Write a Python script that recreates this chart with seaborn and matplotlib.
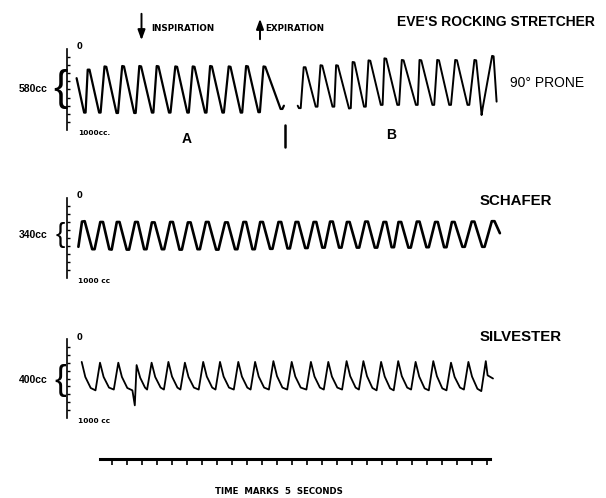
import matplotlib
matplotlib.use("Agg")
import matplotlib.pyplot as plt
import seaborn as sns
import pandas as pd

# kymograph traces: time in seconds, volume in cc (0 = top of scale)
# Eve's rocking stretcher, run A, then run B (90 deg prone)
eve_a_t = [3.2, 5.7, 6.2, 6.9, 7.5, 10.7, 11.2, 12.5, 13.1, 16.5, 17.0, 18.4, 19.0,
           22.4, 22.9, 24.1, 24.7, 28.3, 28.8, 29.9, 30.5, 34.0, 34.5, 36.1, 36.7,
           40.1, 40.6, 41.9, 42.5, 46.0, 46.5, 47.7, 48.3, 51.8, 52.3, 53.9, 54.5,
           57.9, 58.4, 59.7, 60.3, 63.8, 64.3, 65.5, 66.1, 71.2, 71.8, 72.3]
eve_a_cc = [360, 785, 785, 255, 255, 785, 785, 215, 220, 790, 790, 210, 215,
            790, 790, 210, 215, 785, 785, 210, 215, 785, 785, 215, 220,
            785, 785, 215, 220, 785, 785, 210, 215, 785, 785, 215, 220,
            785, 785, 210, 215, 780, 780, 215, 220, 740, 740, 700]
eve_b_t = [76.9, 77.3, 77.9, 78.9, 79.5, 82.9, 83.5, 84.5, 85.1, 88.5, 89.1, 89.7, 90.3,
           94.0, 94.6, 95.2, 95.8, 99.0, 99.6, 100.5, 101.1, 104.6, 105.2, 105.8, 106.4,
           110.1, 110.7, 111.6, 112.2, 116.3, 116.9, 117.5, 118.1, 121.8, 122.4, 123.4, 124.0,
           127.4, 128.0, 129.4, 130.0, 133.5, 134.1, 135.8, 136.4, 137.9, 138.2, 138.6,
           141.7, 142.2, 143.2]
eve_b_cc = [700, 730, 730, 225, 225, 712, 712, 200, 205, 712, 712, 200, 205,
            735, 730, 160, 165, 712, 712, 140, 145, 690, 690, 115, 120,
            690, 690, 135, 140, 690, 690, 135, 140, 690, 690, 135, 140,
            690, 690, 135, 140, 690, 690, 135, 140, 690, 815, 720,
            85, 90, 650]
eve_switch_t = 72.7

# Schafer
sch_t = [3.8, 5.0, 5.9, 8.4, 9.2, 11.1, 12.0, 14.1, 14.9, 16.6, 17.5, 19.9, 20.7,
         22.7, 23.6, 25.7, 26.5, 28.3, 29.2, 31.6, 32.4, 34.4, 35.3, 37.5, 38.3,
         40.3, 41.2, 43.5, 44.3, 46.3, 47.2, 49.7, 50.5, 52.7, 53.6, 56.0, 56.8,
         58.8, 59.7, 61.8, 62.6, 64.4, 65.3, 67.7, 68.5, 70.5, 71.4, 73.5, 74.3,
         76.2, 77.1, 79.4, 80.2, 82.2, 83.1, 85.1, 85.9, 87.7, 88.6, 90.7, 91.5,
         93.3, 94.2, 96.6, 97.4, 99.4, 100.3, 102.6, 103.4, 105.5, 106.4, 108.2, 109.0,
         110.5, 111.4, 113.8, 114.6, 116.6, 117.5, 119.8, 120.6, 122.7, 123.6, 125.7, 126.5,
         128.3, 129.2, 131.8, 132.6, 134.9, 135.8, 138.4, 139.2, 141.6, 142.5, 144.3]
sch_cc = [610, 295, 290, 640, 640, 300, 300, 640, 645, 300, 300, 645, 645,
          300, 300, 640, 640, 305, 305, 640, 640, 300, 300, 645, 645,
          305, 305, 640, 640, 300, 300, 645, 645, 305, 305, 640, 640,
          300, 300, 640, 640, 300, 300, 635, 635, 300, 300, 630, 630,
          300, 300, 625, 625, 300, 300, 620, 620, 295, 295, 620, 620,
          300, 300, 620, 620, 295, 295, 620, 620, 300, 300, 615, 615,
          300, 300, 620, 620, 295, 295, 615, 615, 300, 300, 615, 615,
          300, 300, 610, 610, 295, 295, 610, 610, 290, 290, 440]

# Silvester: peak, knee of the fall, start of the floor, floor before next rise
sil_t = [4.9, 6.1, 7.9, 9.5,
         11.0, 12.2, 14.0, 15.6,
         17.1, 18.3, 20.1, 21.8, 22.6,
         23.2, 24.4, 26.0, 26.7,
         28.2, 29.4, 31.2, 32.3,
         33.8, 35.0, 36.8, 37.8,
         39.3, 40.5, 42.3, 43.9,
         45.4, 46.6, 48.4, 49.5,
         51.0, 52.2, 54.0, 55.6,
         57.1, 58.3, 60.1, 61.2,
         62.7, 63.9, 65.7, 67.3,
         68.8, 70.0, 71.8, 73.4,
         74.9, 76.1, 77.9, 79.8,
         81.3, 82.5, 84.3, 85.6,
         87.1, 88.3, 90.1, 91.7,
         93.2, 94.4, 96.2, 97.3,
         98.8, 100.0, 101.8, 103.2,
         104.7, 105.9, 107.7, 108.9,
         110.4, 111.6, 113.4, 114.7,
         116.2, 117.4, 119.2, 120.6,
         122.1, 123.3, 125.1, 126.5,
         128.0, 129.2, 131.0, 132.3,
         133.8, 135.0, 136.8, 138.1,
         139.6, 140.2, 142.0]
sil_cc = [290, 480, 620, 650,
          300, 480, 615, 640,
          300, 480, 620, 650, 840,
          330, 490, 615, 640,
          300, 480, 615, 640,
          290, 475, 615, 640,
          300, 480, 615, 640,
          290, 475, 615, 640,
          290, 475, 615, 640,
          290, 475, 615, 640,
          290, 475, 615, 640,
          280, 470, 615, 640,
          290, 475, 615, 640,
          290, 475, 615, 640,
          290, 475, 615, 640,
          280, 470, 615, 640,
          280, 470, 620, 650,
          290, 475, 625, 650,
          280, 470, 615, 640,
          290, 475, 625, 650,
          280, 470, 625, 650,
          300, 480, 615, 640,
          290, 475, 630, 660,
          280, 460, 500]

tidal_labels = ["580cc", "340cc", "400cc"]
method_labels = ["EVE'S ROCKING STRETCHER", "SCHAFER", "SILVESTER"]
time_marks = [15, 20, 25, 30, 35, 40, 45, 50, 55, 60, 65, 70, 75, 80, 85, 90, 95,
              100, 105, 110, 115, 120, 125, 130, 135, 140]

sns.set_style("white")
plt.rcParams["font.family"] = ["Liberation Sans", "DejaVu Sans"]
plt.rcParams["text.color"] = "black"
SMALL = "DejaVu Sans"

W, H = 606, 498
fig = plt.figure(figsize=(W / 100, H / 100), dpi=100)

# overlay in pixel units for the loose labels
ov = fig.add_axes([0, 0, 1, 1])
ov.set_xlim(0, W)
ov.set_ylim(H, 0)
ov.axis("off")

TMAX = 146
left_px, right_px = 67, 67 + 3 * TMAX


def panel(top_px, bottom_px, bottom_label):
    ax = fig.add_axes([left_px / W, 1 - bottom_px / H,
                       (right_px - left_px) / W, (bottom_px - top_px) / H])
    ax.patch.set_alpha(0)
    ax.set_xlim(0, TMAX)
    ax.set_ylim(1000, 0)
    for s in ["top", "right", "bottom"]:
        ax.spines[s].set_visible(False)
    ax.spines["left"].set_linewidth(1.2)
    ax.spines["left"].set_color("black")
    ax.set_xticks([])
    ax.set_yticks([0, 1000])
    ax.set_yticks(range(100, 1000, 100), minor=True)
    ax.tick_params(axis="y", which="major", direction="in", length=5, width=1.2,
                   labelleft=False, color="black")
    ax.tick_params(axis="y", which="minor", direction="in", length=2.2, width=1,
                   color="black", left=True)
    ax.text(0.022, 1.025, "0", transform=ax.transAxes, fontsize=6, fontweight="bold",
            va="center", family=SMALL)
    ax.text(0.025, -0.035, bottom_label, transform=ax.transAxes, fontsize=5.3,
            fontweight="bold", va="center", family=SMALL)
    return ax


def trace(ax, t, cc, lw=1.5):
    df = pd.DataFrame({"t": t, "cc": cc})
    sns.lineplot(data=df, x="t", y="cc", ax=ax, color="black", lw=lw,
                 estimator=None, sort=False, solid_joinstyle="round",
                 solid_capstyle="round", clip_on=False)
    ax.set(xlabel=None, ylabel=None)


ax1 = panel(49, 130, "1000cc.")
trace(ax1, eve_a_t, eve_a_cc, 1.6)
trace(ax1, eve_b_t, eve_b_cc, 1.4)
ax1.plot([eve_switch_t, eve_switch_t], [940, 1210], color="black", lw=1.8,
         clip_on=False)

ax2 = panel(198, 278, "1000 cc")
trace(ax2, sch_t, sch_cc, 1.9)

ax3 = panel(339, 418, "1000 cc")
trace(ax3, sil_t, sil_cc, 1.3)

# time marker bar
axt = fig.add_axes([left_px / W, 1 - 459 / H, (right_px - left_px) / W, 15 / H])
axt.patch.set_alpha(0)
axt.set_xlim(0, TMAX)
for s in ["top", "right", "left"]:
    axt.spines[s].set_visible(False)
axt.spines["bottom"].set_linewidth(2.2)
axt.spines["bottom"].set_color("black")
axt.spines["bottom"].set_bounds(11, 141)
axt.set_yticks([])
axt.set_xticks(time_marks)
axt.tick_params(axis="x", direction="out", length=4, width=1.2, labelbottom=False,
                color="black", bottom=True)

# labels
ov.text(397, 22, method_labels[0], fontsize=10, fontweight="bold", va="center")
ov.text(480, 201, method_labels[1], fontsize=10.8, fontweight="bold", va="center")
ov.text(480, 337, method_labels[2], fontsize=10.8, fontweight="bold", va="center")
ov.text(510, 83, "90° PRONE", fontsize=10, va="center")

ov.annotate("", xy=(141.5, 43), xytext=(141.5, 11),
            arrowprops=dict(arrowstyle="-|>,head_width=0.22,head_length=0.6",
                            color="black", lw=1.4))
ov.text(151, 28, "INSPIRATION", fontsize=6.3, fontweight="bold", va="center",
        family=SMALL)
ov.annotate("", xy=(260, 16), xytext=(260, 42),
            arrowprops=dict(arrowstyle="-|>,head_width=0.22,head_length=0.6",
                            color="black", lw=1.4))
ov.text(265, 28, "EXPIRATION", fontsize=6.3, fontweight="bold", va="center",
        family=SMALL)

ov.text(187, 139, "A", fontsize=10, fontweight="bold", ha="center", va="center")
ov.text(391, 135, "B", fontsize=10, fontweight="bold", ha="center", va="center")

for y, lab, bsize in [(89, tidal_labels[0], 31), (235, tidal_labels[1], 20),
                      (380, tidal_labels[2], 25)]:
    ov.text(48, y, lab, fontsize=7.5, fontweight="bold", ha="right", va="center")
    ov.text(60, y, "{", fontsize=bsize, ha="center", va="center", color="black")

ov.text(279, 491, "TIME  MARKS  5  SECONDS", fontsize=6.2, fontweight="bold",
        ha="center", va="center", family=SMALL)

fig.savefig("out.png", dpi=100)
